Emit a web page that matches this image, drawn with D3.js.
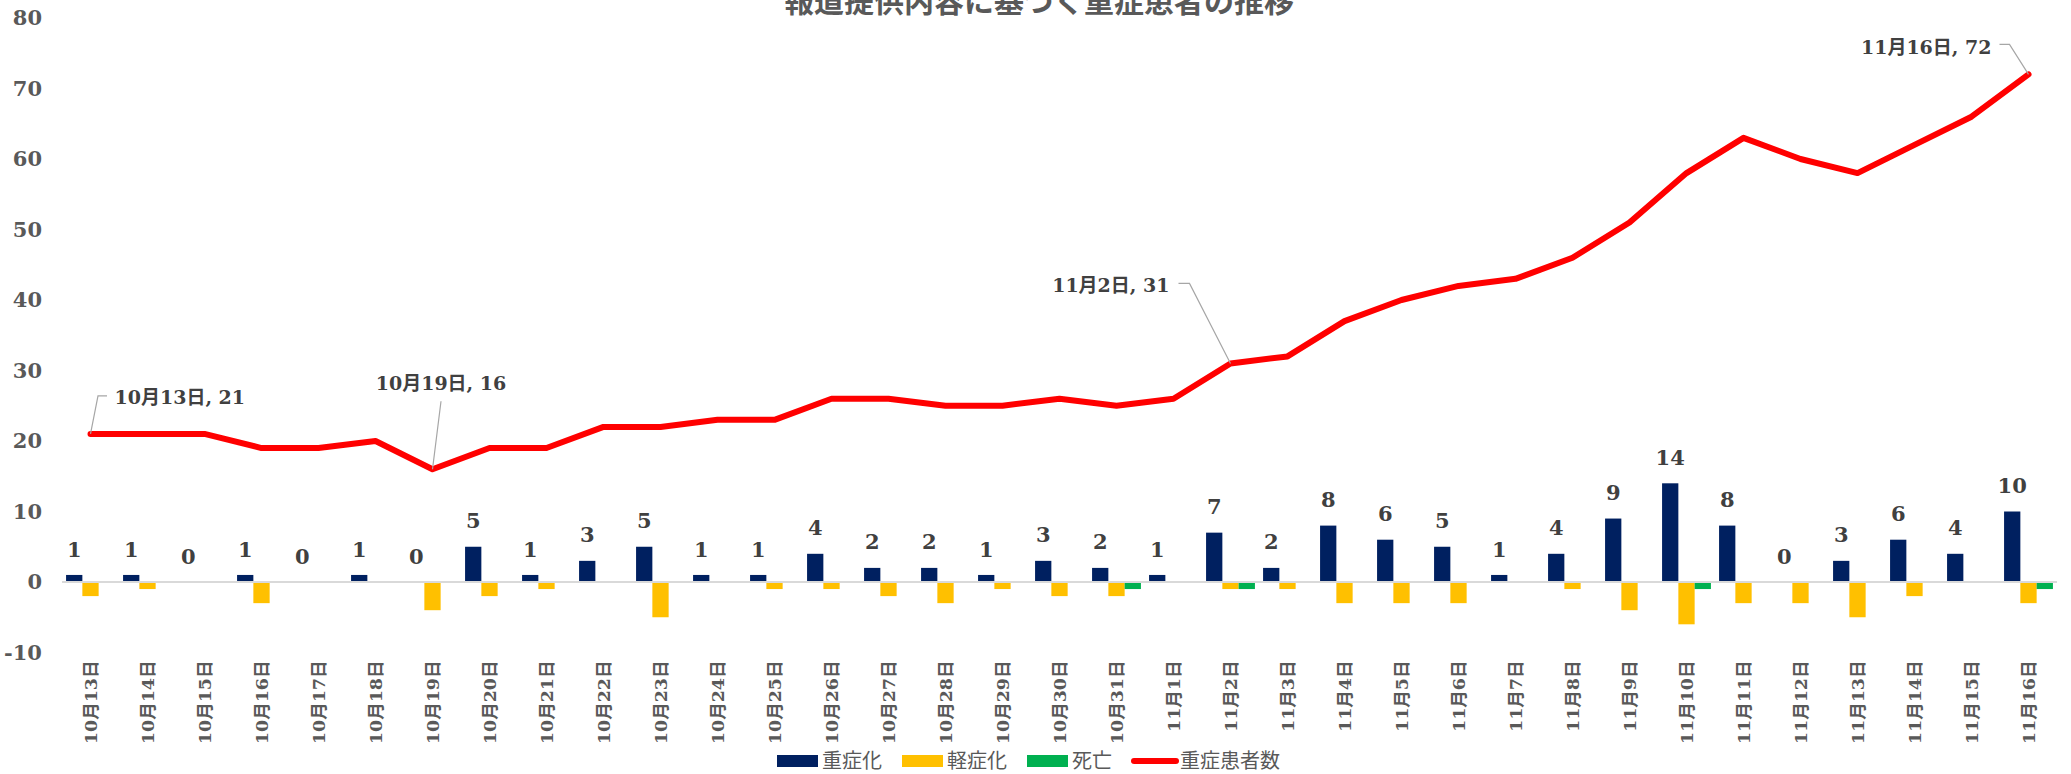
<!DOCTYPE html>
<html>
<head>
<meta charset="utf-8">
<script src="https://cdn.jsdelivr.net/npm/d3@7"></script>
<style>
  html, body { margin: 0; padding: 0; background: #fff; }
  svg { display: block; }
</style>
</head>
<body>
<svg id="chart" width="2071" height="774"></svg>
<script>
// ---------------- data ----------------
const title = "報道提供内容に基づく重症患者の推移";
const categories = [
  "10月13日","10月14日","10月15日","10月16日","10月17日","10月18日","10月19日",
  "10月20日","10月21日","10月22日","10月23日","10月24日","10月25日","10月26日",
  "10月27日","10月28日","10月29日","10月30日","10月31日",
  "11月1日","11月2日","11月3日","11月4日","11月5日","11月6日","11月7日",
  "11月8日","11月9日","11月10日","11月11日","11月12日","11月13日","11月14日",
  "11月15日","11月16日"
];
const seriesNames = ["重症化", "軽症化", "死亡", "重症患者数"];
const severe   = [1,1,0,1,0,1,0,5,1,3,5,1,1,4,2,2,1,3,2,1,7,2,8,6,5,1,4,9,14,8,0,3,6,4,10];
const mild     = [-2,-1,0,-3,0,0,-4,-2,-1,0,-5,0,-1,-1,-2,-3,-1,-2,-2,0,-1,-1,-3,-3,-3,0,-1,-4,-6,-3,-3,-5,-2,0,-3];
const deaths   = [0,0,0,0,0,0,0,0,0,0,0,0,0,0,0,0,0,0,-1,0,-1,0,0,0,0,0,0,0,-1,0,0,0,0,0,-1];
const patients = [21,21,21,19,19,20,16,19,19,22,22,23,23,26,26,25,25,26,25,26,31,32,37,40,42,43,46,51,58,63,60,58,62,66,72];
const yTicks = [-10,0,10,20,30,40,50,60,70,80];
const calloutCats = ["10月13日","10月19日","11月2日","11月16日"];

// ---------------- layout / style ----------------
const colors = ["#002060", "#FFC000", "#00B050", "#FF0000"];
const numFont = "'DejaVu Serif', 'Noto Sans CJK JP', serif";
const cjkFont = "'Noto Sans CJK JP', sans-serif";
// callout offsets relative to the data point
const calloutLayout = [
  {ex: 7.5, ey: -38, hx: 16.5, tx: 24, ty: -37, anchor: "start"},
  {ex: 8.5, ey: -68, hx: 8.5, tx: 8.5, ty: -86, anchor: "middle"},
  {ex: -41, ey: -80, hx: -52, tx: -61, ty: -78, anchor: "end"},
  {ex: -19, ey: -30, hx: -29, tx: -37, ty: -27, anchor: "end"}
];

const svg = d3.select("#chart");

const x = d3.scaleBand().domain(categories).range([62, 2057]).padding(0);
const keys = ["severe", "mild", "deaths"];
const xSub = d3.scaleBand().domain(keys).range([0, x.bandwidth()]).paddingInner(0).paddingOuter(0.25);
const y = d3.scaleLinear().domain([-10, 80]).range([652.5, 18]);

// title
svg.append("text")
  .attr("x", 1039).attr("y", 12)
  .attr("text-anchor", "middle")
  .style("font-family", cjkFont).style("font-weight", "bold")
  .style("font-size", "30px").style("fill", "#595959")
  .text(title);

// y axis
const yAxis = svg.append("g")
  .attr("transform", "translate(48,0)")
  .call(d3.axisLeft(y).tickValues(yTicks).tickSize(0).tickPadding(6).tickFormat(d => String(d)));
yAxis.select(".domain").remove();
yAxis.selectAll("text")
  .style("font-family", numFont).style("font-weight", "bold")
  .style("font-size", "21px").style("fill", "#595959");

// bars
const barData = [severe, mild, deaths];
keys.forEach((k, si) => {
  svg.append("g").selectAll("rect")
    .data(categories.map((c, i) => ({c, v: barData[si][i]})))
    .join("rect")
    .attr("x", d => x(d.c) + xSub(k))
    .attr("width", xSub.bandwidth())
    .attr("y", d => y(Math.max(0, d.v)))
    .attr("height", d => Math.abs(y(d.v) - y(0)))
    .attr("fill", colors[si]);
});

// zero line
svg.append("line")
  .attr("x1", x.range()[0]).attr("x2", x.range()[1])
  .attr("y1", y(0)).attr("y2", y(0))
  .attr("stroke", "#d9d9d9").attr("stroke-width", 2);

// category axis
const xAxis = svg.append("g")
  .attr("transform", `translate(0,${y(-10)})`)
  .call(d3.axisBottom(x).tickSize(0));
xAxis.select(".domain").remove();
xAxis.selectAll("text")
  .attr("transform", "rotate(-90)")
  .attr("x", -8).attr("y", 0).attr("dy", "0.36em")
  .style("text-anchor", "end")
  .style("font-family", numFont).style("font-weight", "bold")
  .style("font-size", "17.5px").style("fill", "#595959");

// severe data labels
svg.append("g").selectAll("text")
  .data(categories.map((c, i) => ({c, v: severe[i]})))
  .join("text")
  .attr("x", d => x(d.c) + xSub("severe") + xSub.bandwidth() / 2)
  .attr("y", d => y(d.v) - 26)
  .attr("dy", "0.36em")
  .attr("text-anchor", "middle")
  .style("font-family", numFont).style("font-weight", "bold")
  .style("font-size", "21px").style("fill", "#404040")
  .text(d => d.v);

// line
const line = d3.line()
  .x((d, i) => x(categories[i]) + x.bandwidth() / 2)
  .y(d => y(d));
svg.append("path")
  .datum(patients)
  .attr("d", line)
  .attr("fill", "none")
  .attr("stroke", colors[3])
  .attr("stroke-width", 6)
  .attr("stroke-linejoin", "round")
  .attr("stroke-linecap", "round");

// callouts
calloutCats.forEach((c, k) => {
  const i = categories.indexOf(c);
  const px = x(c) + x.bandwidth() / 2, py = y(patients[i]);
  const L = calloutLayout[k];
  svg.append("polyline")
    .attr("points", [[px, py], [px + L.ex, py + L.ey], [px + L.hx, py + L.ey]].map(p => p.join(",")).join(" "))
    .attr("fill", "none").attr("stroke", "#a6a6a6").attr("stroke-width", 1.2);
  svg.append("text")
    .attr("x", px + L.tx).attr("y", py + L.ty).attr("dy", "0.36em")
    .attr("text-anchor", L.anchor)
    .style("font-family", numFont).style("font-weight", "bold")
    .style("font-size", "19px").style("fill", "#404040")
    .text(`${c}, ${patients[i]}`);
});

// legend
let lx = 777;
const ly = 761;
seriesNames.forEach((name, i) => {
  const g = svg.append("g");
  let textX;
  if (i < 3) {
    g.append("rect").attr("x", lx).attr("y", ly - 6).attr("width", 41).attr("height", 12).attr("fill", colors[i]);
    textX = lx + 45;
  } else {
    g.append("line").attr("x1", lx + 2).attr("x2", lx + 44).attr("y1", ly).attr("y2", ly)
      .attr("stroke", colors[i]).attr("stroke-width", 6).attr("stroke-linecap", "round");
    textX = lx + 48;
  }
  const t = g.append("text").attr("x", textX).attr("y", ly).attr("dy", "0.36em")
    .style("font-family", cjkFont).style("font-size", "20px").style("fill", "#595959")
    .text(name);
  lx = textX + t.node().getComputedTextLength() + 20;
});
</script>
</body>
</html>
